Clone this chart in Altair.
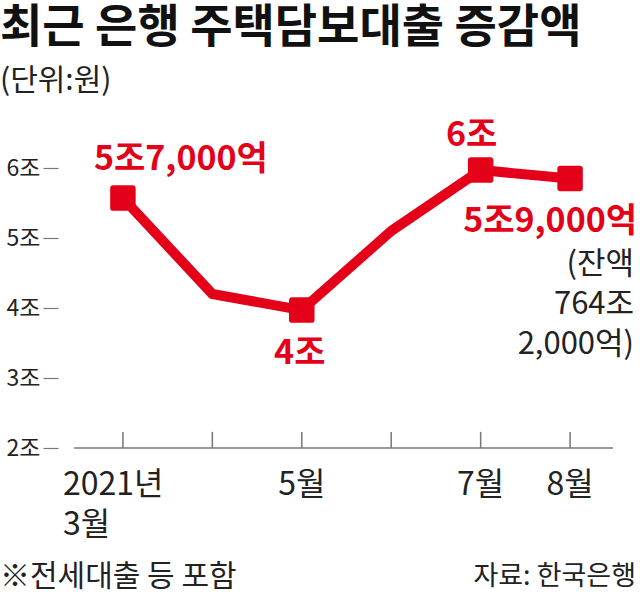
import altair as alt
import pandas as pd

# ---- data ----
months = [3, 4, 5, 6, 7, 8]
values = [5.57, 4.2, 3.97, 5.1, 5.97, 5.85]
marker_months = [3, 5, 7, 8]
tick_months = [3, 4, 5, 6, 7, 8]
x_label_months = [3, 5, 7, 8]
x_labels = ["2021년\n3월", "5월", "7월", "8월"]
ann_months = [3, 5, 7, 8]
ann_texts = ["5조7,000억", "4조", "6조", "5조9,000억"]
note_text = "(잔액\n764조\n2,000억)"
y_ticks = [2, 3, 4, 5, 6]

title_text = "최근 은행 주택담보대출 증감액"
subtitle_text = "(단위:원)"
footnote_text = "※전세대출 등 포함"
source_text = "자료: 한국은행"

# ---- style ----
RED = "#e5001a"
FONT = "Noto Sans CJK KR"
W, H = 539, 350
X_DOMAIN = [2.453, 8.48]
Y_DOMAIN = [2, 7]

df = pd.DataFrame({"month": months, "value": values})
mk = df[df["month"].isin(marker_months)]
ann = pd.DataFrame({"month": ann_months, "text": ann_texts}).merge(df, on="month")
ticks = pd.DataFrame({"month": tick_months})
xl = pd.DataFrame({"month": x_label_months, "label": x_labels})

xs = alt.Scale(domain=X_DOMAIN, nice=False, zero=False)
ys = alt.Scale(domain=Y_DOMAIN, nice=False, zero=False)
X = alt.X("month:Q", scale=xs, axis=None)

line = alt.Chart(df).mark_line(color=RED, strokeWidth=10, strokeJoin="round").encode(
    x=X,
    y=alt.Y("value:Q", scale=ys, axis=alt.Axis(
        values=y_ticks, title=None, orient="left", offset=16, domain=False, grid=False,
        tickSize=15, tickColor="#777", tickWidth=1.2, labelPadding=3,
        labelExpr="datum.value + '조'", labelFont=FONT, labelFontSize=23,
        labelColor="#222")),
)

rounded_square = ("M -0.75 -1 L 0.75 -1 Q 1 -1 1 -0.75 L 1 0.75 Q 1 1 0.75 1 "
                  "L -0.75 1 Q -1 1 -1 0.75 L -1 -0.75 Q -1 -1 -0.75 -1 Z")
markers = alt.Chart(mk).mark_point(shape=rounded_square, filled=True, color=RED,
                                   size=650, opacity=1).encode(
    x=X, y=alt.Y("value:Q", scale=ys))

baseline = alt.Chart(pd.DataFrame({"v": [2]})).mark_rule(color="#777", strokeWidth=1.5).encode(
    y=alt.Y("v:Q", scale=ys), x=alt.value(0), x2=alt.value(W))

tick_rules = alt.Chart(ticks).mark_rule(color="#777", strokeWidth=1.5).encode(
    x=X, y=alt.datum(2, scale=ys), y2=alt.datum(2.23))

first_lab = alt.Chart(xl.iloc[[0]]).mark_text(
    font=FONT, fontSize=32, color="#222", align="left", baseline="top",
    dx=-60, lineBreak="\n", lineHeight=40).encode(x=X, y=alt.value(H + 22), text="label:N")
other_lab = alt.Chart(xl.iloc[1:]).mark_text(
    font=FONT, fontSize=32, color="#222", align="center", baseline="top").encode(
    x=X, y=alt.value(H + 22), text="label:N")


def ann_layer(i, dx, dy, align):
    return alt.Chart(ann.iloc[[i]]).mark_text(
        font=FONT, fontSize=34, fontWeight="bold", color=RED, align=align,
        baseline="middle", dx=dx, dy=dy).encode(
        x=X, y=alt.Y("value:Q", scale=ys), text="text:N")


a0 = ann_layer(0, 58, -38, "center")
a1 = ann_layer(1, -2, 44, "center")
a2 = ann_layer(2, -9, -34, "center")
a3 = ann_layer(3, 67, 43, "right")

note = alt.Chart(ann.iloc[[3]]).mark_text(
    font=FONT, fontSize=31, color="#222", align="right", baseline="top",
    dx=64, dy=71, lineBreak="\n", lineHeight=40).encode(
    x=X, y=alt.Y("value:Q", scale=ys), text=alt.value(note_text))

title = alt.Chart(pd.DataFrame({"t": [title_text]})).mark_text(
    font=FONT, fontSize=46, fontWeight="bold", color="#111", align="left",
    baseline="middle").encode(x=alt.value(-74), y=alt.value(-70), text="t:N")
subtitle = alt.Chart(pd.DataFrame({"t": [subtitle_text]})).mark_text(
    font=FONT, fontSize=30, color="#222", align="left",
    baseline="middle").encode(x=alt.value(-74), y=alt.value(-17), text="t:N")
footnote = alt.Chart(pd.DataFrame({"t": [footnote_text]})).mark_text(
    font=FONT, fontSize=30, color="#222", align="left",
    baseline="middle").encode(x=alt.value(-74), y=alt.value(479), text="t:N")
source = alt.Chart(pd.DataFrame({"t": [source_text]})).mark_text(
    font=FONT, fontSize=27, color="#222", align="right",
    baseline="middle").encode(x=alt.value(562), y=alt.value(479), text="t:N")

chart = alt.layer(
    baseline, tick_rules, line, markers, a0, a1, a2, a3, note,
    first_lab, other_lab, title, subtitle, footnote, source
).properties(
    width=W, height=H,
    background="white",
    autosize=alt.AutoSizeParams(type="none"),
    padding={"left": 74, "top": 98, "right": 27, "bottom": 148},
).configure_view(stroke=None)

chart.save("out.html", embed_options={"renderer": "svg", "actions": False})
